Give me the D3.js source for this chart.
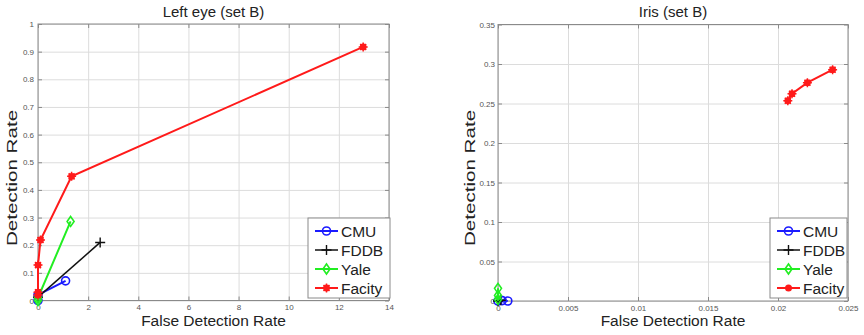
<!DOCTYPE html>
<html>
<head>
<meta charset="utf-8">
<script src="https://cdn.jsdelivr.net/npm/d3@7"></script>
<style>
  body { margin: 0; background: #fff; }
  svg { display: block; font-family: Arial, "Liberation Sans", sans-serif; }
  .tick text { fill: #555; font-size: 8px; }
  .grid line { stroke: #dcdcdc; stroke-width: 1; }
  .grid path { display: none; }
</style>
</head>
<body>
<svg id="chart" width="864" height="335"></svg>
<script>
// series names and colours
var seriesNames = ['CMU', 'FDDB', 'Yale', 'Facity'];
var seriesColors = ['#1a1aff', '#111111', '#22ee22', '#ff1a1a'];
var seriesMarkers = ['circle', 'plus', 'diamond', 'star'];

// left panel: Left eye (set B)
var leftCMU = [[0, 0], [0, 0.02], [1.1, 0.071]];
var leftFDDB = [[0, 0.012], [2.48, 0.21]];
var leftYale = [[0, 0], [0, 0.01], [1.3, 0.286]];
var leftFacity = [[0, 0.02], [0, 0.03], [0, 0.128], [0.1, 0.219], [1.34, 0.449], [12.97, 0.917]];
var leftXTicks = [0, 2, 4, 6, 8, 10, 12, 14];
var leftYTicks = [0, 0.1, 0.2, 0.3, 0.4, 0.5, 0.6, 0.7, 0.8, 0.9, 1];

// right panel: Iris (set B)
var rightCMU = [[0, 0], [0.0003, 0.0005], [0.0007, 0]];
var rightFDDB = [[0, 0], [0.0002, 0.001]];
var rightYale = [[0, 0.002], [0, 0.007], [0, 0.016]];
var rightFacity = [[0.0207, 0.2535], [0.021, 0.2624], [0.0221, 0.2763], [0.0239, 0.2928]];
var rightXTicks = [0, 0.005, 0.01, 0.015, 0.02, 0.025];
var rightYTicks = [0, 0.05, 0.1, 0.15, 0.2, 0.25, 0.3, 0.35];

var svg = d3.select('#chart');

function drawMarker(g, type, x, y, color) {
    if (type === 'circle') {
        g.append('circle').attr('cx', x).attr('cy', y).attr('r', 4)
            .attr('fill', 'none').attr('stroke', color).attr('stroke-width', 1.6);
    } else if (type === 'diamond') {
        g.append('path')
            .attr('d', 'M' + x + ',' + (y - 5) + 'L' + (x + 3.5) + ',' + y + 'L' + x + ',' + (y + 5) + 'L' + (x - 3.5) + ',' + y + 'Z')
            .attr('fill', 'none').attr('stroke', color).attr('stroke-width', 1.6);
    } else if (type === 'plus') {
        g.append('path')
            .attr('d', 'M' + (x - 5) + ',' + y + 'H' + (x + 5) + 'M' + x + ',' + (y - 5) + 'V' + (y + 5))
            .attr('stroke', color).attr('stroke-width', 1.4);
    } else if (type === 'star') {
        g.append('path')
            .attr('d', 'M' + (x - 4.5) + ',' + y + 'H' + (x + 4.5) + 'M' + x + ',' + (y - 4.5) + 'V' + (y + 4.5) +
                'M' + (x - 3) + ',' + (y - 3) + 'L' + (x + 3) + ',' + (y + 3) +
                'M' + (x - 3) + ',' + (y + 3) + 'L' + (x + 3) + ',' + (y - 3))
            .attr('stroke', color).attr('stroke-width', 1.5);
        g.append('circle').attr('cx', x).attr('cy', y).attr('r', 3.4).attr('fill', color);
    } else if (type === 'dot') {
        g.append('circle').attr('cx', x).attr('cy', y).attr('r', 3.5).attr('fill', color);
    }
}

function drawPanel(cfg) {
    var x = d3.scaleLinear().domain(cfg.xDomain).range([cfg.left, cfg.right]);
    var y = d3.scaleLinear().domain(cfg.yDomain).range([cfg.bottom, cfg.top]);
    var w = cfg.right - cfg.left, h = cfg.bottom - cfg.top;
    var g = svg.append('g');

    // grid
    g.append('g').attr('class', 'grid')
        .attr('transform', 'translate(0,' + cfg.bottom + ')')
        .call(d3.axisBottom(x).tickValues(cfg.xTicks).tickSize(-h).tickFormat(''));
    g.append('g').attr('class', 'grid')
        .attr('transform', 'translate(' + cfg.left + ',0)')
        .call(d3.axisLeft(y).tickValues(cfg.yTicks).tickSize(-w).tickFormat(''));

    // frame
    g.append('rect').attr('x', cfg.left).attr('y', cfg.top).attr('width', w).attr('height', h)
        .attr('fill', 'none').attr('stroke', '#8a8a8a').attr('stroke-width', 1);

    // axes with inward ticks
    var xa = g.append('g').attr('transform', 'translate(0,' + cfg.bottom + ')')
        .call(d3.axisBottom(x).tickValues(cfg.xTicks).tickSize(-4).tickPadding(cfg.xPad).tickFormat(String));
    var xt = g.append('g').attr('transform', 'translate(0,' + cfg.top + ')')
        .call(d3.axisTop(x).tickValues(cfg.xTicks).tickSize(-4).tickFormat(''));
    var ya = g.append('g').attr('transform', 'translate(' + cfg.left + ',0)')
        .call(d3.axisLeft(y).tickValues(cfg.yTicks).tickSize(-4).tickPadding(cfg.yPad).tickFormat(String));
    var yr = g.append('g').attr('transform', 'translate(' + cfg.right + ',0)')
        .call(d3.axisRight(y).tickValues(cfg.yTicks).tickSize(-4).tickFormat(''));
    [xa, xt, ya, yr].forEach(function (a) {
        a.select('.domain').remove();
        a.selectAll('.tick line').attr('stroke', '#8a8a8a');
    });

    // series
    var line = d3.line().x(function (d) { return x(d[0]); }).y(function (d) { return y(d[1]); });
    cfg.series.forEach(function (s, i) {
        g.append('path').datum(s).attr('d', line)
            .attr('fill', 'none').attr('stroke', seriesColors[i])
            .attr('stroke-width', i === 1 ? 1.5 : 2);
        s.forEach(function (p) {
            drawMarker(g, seriesMarkers[i], x(p[0]), y(p[1]), seriesColors[i]);
        });
    });

    // titles
    var cx = (cfg.left + cfg.right) / 2;
    g.append('text').attr('x', cx).attr('y', 17).attr('text-anchor', 'middle')
        .attr('font-size', 15).attr('fill', '#222').text(cfg.title);
    g.append('text').attr('x', cx).attr('y', 326).attr('text-anchor', 'middle')
        .attr('font-size', 15.5).attr('fill', '#222').text('False Detection Rate');
    g.append('text')
        .attr('transform', 'translate(' + cfg.yLabelX + ',178) rotate(-90) scale(1.33,1)')
        .attr('text-anchor', 'middle').attr('font-size', 15.5).attr('fill', '#222')
        .text('Detection Rate');

    // legend
    var lg = g.append('g');
    lg.append('rect').attr('x', cfg.legend[0]).attr('y', 218)
        .attr('width', cfg.legend[1]).attr('height', 80)
        .attr('fill', '#fff').attr('stroke', '#8a8a8a');
    seriesNames.forEach(function (name, i) {
        var by = 236.5 + i * 19;
        var lx = cfg.legend[0] + 7;
        lg.append('line').attr('x1', lx).attr('x2', lx + 23).attr('y1', by - 5.5).attr('y2', by - 5.5)
            .attr('stroke', seriesColors[i]).attr('stroke-width', i === 1 ? 1.5 : 2);
        var m = seriesMarkers[i];
        if (i === 3 && cfg.dotLegend) m = 'dot';
        drawMarker(lg, m, lx + 11.5, by - 5.5, seriesColors[i]);
        lg.append('text').attr('x', lx + 26).attr('y', by)
            .attr('font-size', 15.5).attr('fill', '#222').text(name);
    });
}

drawPanel({
    title: 'Left eye (set B)',
    left: 38, right: 389, top: 24, bottom: 300.5,
    xDomain: [0, 14], yDomain: [0, 1],
    xTicks: leftXTicks, yTicks: leftYTicks,
    xPad: 4, yPad: 4, yLabelX: 17,
    series: [leftCMU, leftFDDB, leftYale, leftFacity],
    legend: [308, 82], dotLegend: false
});

drawPanel({
    title: 'Iris (set B)',
    left: 498, right: 848, top: 24.5, bottom: 301,
    xDomain: [0, 0.025], yDomain: [0, 0.35],
    xTicks: rightXTicks, yTicks: rightYTicks,
    xPad: 4, yPad: 3, yLabelX: 475,
    series: [rightCMU, rightFDDB, rightYale, rightFacity],
    legend: [770, 77], dotLegend: true
});
</script>
</body>
</html>
